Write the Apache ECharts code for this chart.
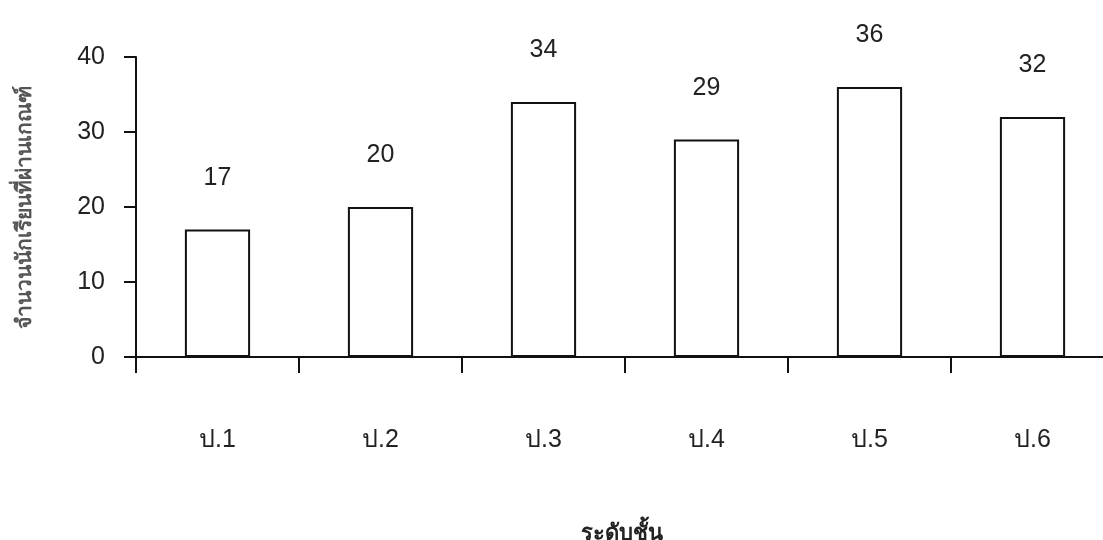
<!DOCTYPE html>
<html>
<head>
<meta charset="utf-8">
<script src="https://cdn.jsdelivr.net/npm/echarts@6/dist/echarts.min.js"></script>
<style>html,body{margin:0;padding:0;background:#fff;overflow:hidden;width:1103px;height:540px;}#c{width:1114px;height:540px;}</style>
</head>
<body>
<div id="c"></div>
<script>
const categories = ['ป.1', 'ป.2', 'ป.3', 'ป.4', 'ป.5', 'ป.6'];
const values = [17, 20, 34, 29, 36, 32];
const yTicks = [0, 10, 20, 30, 40];
const yAxisTitle = 'จำนวนนักเรียนที่ผ่านเกณฑ์';
const xAxisTitle = 'ระดับชั้น';

const chart = echarts.init(document.getElementById('c'));
chart.setOption({
  animation: false,
  backgroundColor: '#fff',
  grid: { left: 136, right: 0, top: 57, bottom: 183, containLabel: false },
  xAxis: {
    type: 'category',
    data: categories,
    axisLine: { show: true, lineStyle: { color: '#111', width: 2 } },
    axisTick: { show: true, alignWithLabel: false, length: 16, lineStyle: { color: '#111', width: 2 } },
    axisLabel: { margin: 71, fontSize: 25, color: '#222', fontFamily: 'Liberation Sans, Arial, sans-serif' },
    splitLine: { show: false }
  },
  yAxis: {
    type: 'value',
    min: yTicks[0],
    max: yTicks[yTicks.length - 1],
    interval: 10,
    name: yAxisTitle,
    nameLocation: 'middle',
    nameGap: 100,
    nameRotate: 90,
    nameTextStyle: { fontSize: 21, fontWeight: 'bold', color: '#555', fontFamily: 'sans-serif' },
    axisLine: { show: true, lineStyle: { color: '#111', width: 2 } },
    axisTick: { show: true, length: 12, lineStyle: { color: '#111', width: 2 } },
    axisLabel: { margin: 31, fontSize: 25, color: '#222', fontFamily: 'Liberation Sans, Arial, sans-serif' },
    splitLine: { show: false }
  },
  series: [{
    type: 'bar',
    data: values,
    barWidth: '40%',
    itemStyle: { color: '#fff', borderColor: '#111', borderWidth: 2 },
    label: {
      show: true,
      position: 'top',
      distance: 39,
      fontSize: 25,
      color: '#222',
      fontFamily: 'Liberation Sans, Arial, sans-serif'
    }
  }],
  graphic: [{
    type: 'text',
    x: 622,
    y: 545,
    style: { text: xAxisTitle, fontSize: 22, fontWeight: 'bold', fill: '#222', fontFamily: 'serif', align: 'center', verticalAlign: 'bottom' }
  }]
});
</script>
</body>
</html>
